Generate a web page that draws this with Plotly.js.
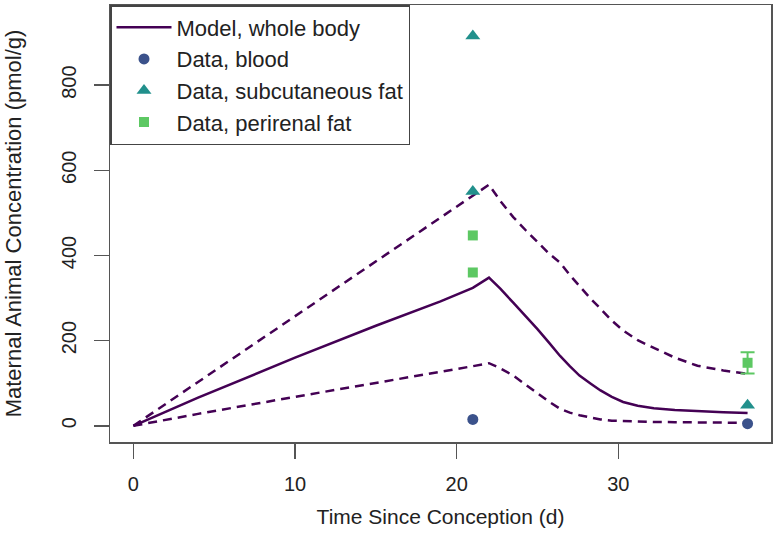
<!DOCTYPE html>
<html>
<head>
<meta charset="utf-8">
<script src="https://cdn.plot.ly/plotly-3.0.1.min.js"></script>
<style>
  body { margin: 0; background: #fff; }
  #graph { width: 777px; height: 557px; }
</style>
</head>
<body>
<div id="graph"></div>
<script>
// model curves (whole body)
let modelTime = [0, 4, 10, 15, 19, 21, 22, 22.7, 23.5, 24.3, 25, 25.7, 26.4, 27, 27.6, 28.3, 28.9, 29.6, 30.3, 31.2, 32.2, 33.5, 34.9, 36.5, 38];
let modelMid  = [0, 66, 160, 235, 292, 324, 348, 322, 289, 257, 227, 196, 164, 140, 118, 99, 83, 68, 56, 47, 41, 37, 34, 32, 30];
let modelHigh = [0, 103, 258, 386, 489, 540, 566, 528, 490, 458, 431, 405, 383, 354, 328, 298, 275, 247, 224, 201, 183, 160, 141, 130, 122];
let modelLow  = [0, 28, 68, 100, 127, 140, 147, 135, 118, 96, 76, 57, 40, 31, 25, 19, 15, 12, 11, 10, 9, 8.5, 8, 7.5, 7];

// measured data
let bloodTime = [21, 38];
let bloodConc = [15, 5];
let subcutTime = [21, 21, 38];
let subcutConc = [915, 550, 48];
let periTime = [21, 21, 38];
let periConc = [447, 360, 148];
// only the last perirenal point has an error bar
let periErr = [NaN, NaN, 25];

let purple = '#440154';
let fnt = 'Liberation Sans, Arial, sans-serif';

let data = [
    {x: modelTime, y: modelMid, mode: 'lines', name: 'Model, whole body',
     line: {color: purple, width: 2.5}},
    {x: modelTime, y: modelHigh, mode: 'lines', showlegend: false,
     line: {color: purple, width: 2.5, dash: '9px,6px'}},
    {x: modelTime, y: modelLow, mode: 'lines', showlegend: false,
     line: {color: purple, width: 2.5, dash: '9px,6px'}},
    {x: bloodTime, y: bloodConc, mode: 'markers', name: 'Data, blood',
     marker: {color: '#3B528B', size: 11, symbol: 'circle'}},
    {x: subcutTime, y: subcutConc, mode: 'markers', name: 'Data, subcutaneous fat',
     marker: {color: '#21908C', size: 13, symbol: 'triangle-up'}},
    {x: periTime, y: periConc, mode: 'markers', name: 'Data, perirenal fat',
     marker: {color: '#5DC863', size: 10, symbol: 'square'},
     error_y: {type: 'data', array: periErr, visible: true, color: '#5DC863', thickness: 2, width: 7}}
];

let layout = {
    width: 777, height: 557,
    margin: {l: 110, r: 6, t: 5, b: 115},
    paper_bgcolor: '#fff', plot_bgcolor: '#fff',
    font: {family: fnt, size: 20, color: '#222'},
    showlegend: true,
    legend: {
        x: 0, y: 1, xanchor: 'left', yanchor: 'top',
        bordercolor: '#444', borderwidth: 1.5, bgcolor: '#fff',
        font: {family: fnt, size: 22, color: '#222'},
        traceorder: 'normal', itemwidth: 55
    },
    xaxis: {
        range: [-1.45, 39.45], tickvals: [0, 10, 20, 30],
        showgrid: false, zeroline: false,
        showline: true, mirror: true, linecolor: '#555', linewidth: 1.5,
        ticks: 'outside', ticklen: 15, tickcolor: '#555', tickwidth: 1.5,
        ticklabelstandoff: 8,
        title: {text: 'Time Since Conception (d)', font: {family: fnt, size: 21}, standoff: 16}
    },
    yaxis: {
        range: [-38, 988], tickvals: [0, 200, 400, 600, 800], tickangle: -90,
        showgrid: false, zeroline: false,
        showline: true, mirror: true, linecolor: '#555', linewidth: 1.5,
        ticks: 'outside', ticklen: 15, tickcolor: '#555', tickwidth: 1.5,
        ticklabelstandoff: 10,
        title: {text: 'Maternal Animal Concentration (pmol/g)', font: {family: fnt, size: 22}, standoff: 30}
    }
};

Plotly.newPlot('graph', data, layout, {displayModeBar: false, staticPlot: true});
</script>
</body>
</html>
